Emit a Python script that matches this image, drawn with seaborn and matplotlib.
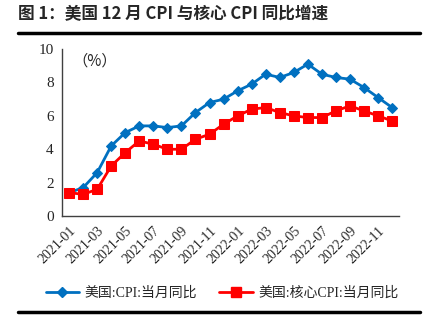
import matplotlib
matplotlib.use("Agg")
import matplotlib.pyplot as plt
import seaborn as sns
import pandas as pd
import numpy as np
from matplotlib.lines import Line2D

months = ["2021-01","2021-02","2021-03","2021-04","2021-05","2021-06","2021-07","2021-08",
          "2021-09","2021-10","2021-11","2021-12","2022-01","2022-02","2022-03","2022-04",
          "2022-05","2022-06","2022-07","2022-08","2022-09","2022-10","2022-11","2022-12"]
cpi = [1.4, 1.7, 2.6, 4.2, 5.0, 5.4, 5.4, 5.3, 5.4, 6.2, 6.8, 7.0,
       7.5, 7.9, 8.5, 8.3, 8.6, 9.1, 8.5, 8.3, 8.2, 7.7, 7.1, 6.5]
core = [1.4, 1.3, 1.6, 3.0, 3.8, 4.5, 4.3, 4.0, 4.0, 4.6, 4.9, 5.5,
        6.0, 6.4, 6.5, 6.2, 6.0, 5.9, 5.9, 6.3, 6.6, 6.3, 6.0, 5.7]
name_cpi = "美国:CPI:当月同比"
name_core = "美国:核心CPI:当月同比"
title = "图 1：美国 12 月 CPI 与核心 CPI 同比增速"

sns.set_style("white")
plt.rcParams['font.family'] = ['Liberation Serif', 'Noto Sans CJK SC', 'DejaVu Sans']

df = pd.DataFrame({"idx": np.arange(len(months)), "cpi": cpi, "core": core})

fig = plt.figure(figsize=(4.31, 3.21), dpi=100)
ax = fig.add_axes([0.144, 0.327, 0.782, 0.52])

blue = "#0070C0"
red = "#FF0000"
sns.lineplot(data=df, x="idx", y="cpi", ax=ax, color=blue, lw=2, marker="D",
             markersize=5, markeredgecolor=blue, markerfacecolor=blue)
sns.lineplot(data=df, x="idx", y="core", ax=ax, color=red, lw=2, marker="s",
             markersize=7.5, markeredgecolor=red, markerfacecolor=red)

ax.set_xlim(-0.5, len(months) - 0.5)
ax.set_ylim(0, 10)
ax.set_yticks(np.arange(0, 11, 2))
ax.set_yticklabels([str(v) for v in range(0, 11, 2)], fontsize=11)
ax.set_xticks(np.arange(0, len(months), 2))
ax.set_xticklabels(months[::2], rotation=45, ha="right", rotation_mode="anchor", fontsize=10)
ax.set_xticks(np.arange(-0.5, len(months), 2), minor=True)
ax.tick_params(axis="x", which="major", length=0, pad=6)
ax.tick_params(axis="x", which="minor", length=4, direction="in", color="#404040", width=1)
ax.tick_params(axis="y", length=3, direction="out", color="#404040", width=1, pad=3)
ax.set_xlabel("")
ax.set_ylabel("")
for s in ["top", "right"]:
    ax.spines[s].set_visible(False)
for s in ["left", "bottom"]:
    ax.spines[s].set_color("#404040")
    ax.spines[s].set_linewidth(1)

ax.text(0.03, 0.93, "（%）", transform=ax.transAxes, fontsize=11, va="center", ha="left",
        family=['Noto Sans CJK SC', 'DejaVu Sans'])

fig.text(0.042, 0.955, title, fontsize=12, fontweight="bold", va="center", ha="left",
         family=['Noto Sans CJK SC', 'DejaVu Sans'])
fig.add_artist(Line2D([0.042, 0.975], [0.897, 0.897], color="black", lw=2.5,
                      transform=fig.transFigure))
fig.add_artist(Line2D([0.042, 0.975], [0.028, 0.028], color="black", lw=2.5,
                      transform=fig.transFigure))

handles = [Line2D([], [], color=blue, lw=2, marker="D", markersize=5),
           Line2D([], [], color=red, lw=2, marker="s", markersize=6.5)]
fig.legend(handles, [name_cpi, name_core], loc="center", bbox_to_anchor=(0.515, 0.088),
           ncol=2, frameon=False, fontsize=10, handlelength=2.4, columnspacing=1.6,
           handletextpad=0.4)

fig.savefig("out.png", dpi=100)
